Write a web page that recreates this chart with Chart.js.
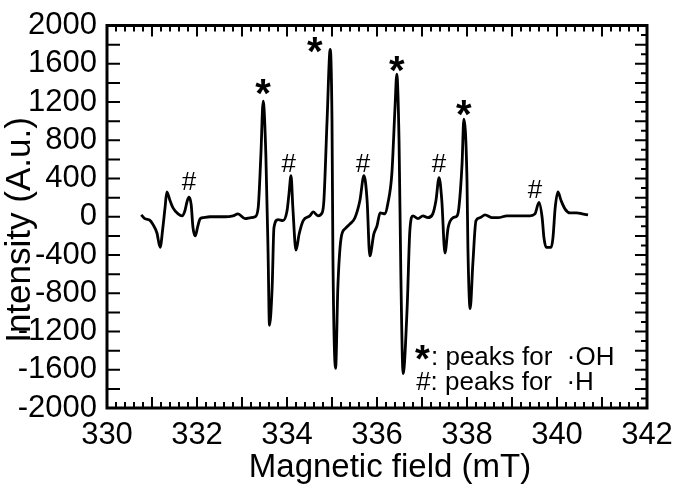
<!DOCTYPE html>
<html>
<head>
<meta charset="utf-8">
<script src="https://cdn.jsdelivr.net/npm/chart.js@4.4.1/dist/chart.umd.min.js"></script>
<style>
  html, body { margin: 0; padding: 0; background: #fff; }
  #wrap { width: 676px; height: 484px; }
</style>
</head>
<body>
<div id="wrap"><canvas id="chart"></canvas></div>
<script>
// EPR spectrum
const field = [
  330.76, 330.84, 330.96, 331.02, 331.11, 331.18, 331.24, 331.29, 331.33, 331.40,
  331.47, 331.58, 331.67, 331.73, 331.78, 331.82, 331.87, 331.91, 331.96, 332.02,
  332.07, 332.13, 332.29, 332.49, 332.62, 332.80, 332.91, 333.07, 333.20, 333.29,
  333.36, 333.42, 333.47, 333.53, 333.58, 333.61, 333.67, 333.71, 333.80, 333.91,
  334.00, 334.04, 334.09, 334.13, 334.20, 334.27, 334.36, 334.51, 334.58, 334.69,
  334.78, 334.82, 334.89, 334.96, 335.00, 335.02, 335.08, 335.13, 335.20, 335.29,
  335.40, 335.51, 335.62, 335.71, 335.78, 335.84, 335.93, 336.00, 336.07, 336.18,
  336.24, 336.33, 336.40, 336.44, 336.49, 336.53, 336.58, 336.67, 336.73, 336.80,
  336.91, 337.02, 337.13, 337.24, 337.31, 337.38, 337.44, 337.51, 337.58, 337.69,
  337.78, 337.82, 337.89, 337.93, 338.00, 338.02, 338.07, 338.13, 338.20, 338.29,
  338.40, 338.56, 338.69, 338.89, 339.11, 339.40, 339.51, 339.60, 339.67, 339.71,
  339.76, 339.87, 339.91, 339.96, 340.02, 340.09, 340.18, 340.29, 340.44, 340.56,
  340.69
];
const intensity = [
  20, -20, -40, -80, -170, -320, -120, 95, 260, 170,
  90, 30, 10, 60, 160, 205, 130, -110, -200, -95,
  -20, -10, 0, 0, 0, 10, 30, -20, -10, 0,
  95, 650, 1210, 650, -390, -1135, -740, -115, -30, -40,
  60, 220, 430, 95, -350, -180, -40, 10, 50, 10,
  40, 170, 1000, 1750, 1000, -390, -1585, -740, -230, -125,
  -75, -10, 170, 430, 170, -410, -180, -95, 40, 30,
  135, 450, 1140, 1490, 790, -600, -1640, -950, -145, 10,
  -20, 10, -10, 30, 170, 410, 170, -380, -115, -10,
  10, 95, 550, 1020, 375, -320, -960, -490, -40, -10,
  20, -10, -10, 10, 10, 10, 30, 150, -10, -220,
  -320, -320, -220, 95, 260, 170, 80, 40, 40, 30,
  20
];

// marker positions (field, intensity)
const ohMarkX = [333.47, 334.62, 336.44, 337.93];
const ohMarkY = [1333, 1771, 1573, 1115];
const hMarkX = [331.82, 334.04, 335.69, 337.38, 339.51];
const hMarkY = [375, 563, 563, 563, 292];

const FONT = "'Liberation Sans', Arial, sans-serif";

function drawStar(ctx, cx, cy, size) {
  ctx.font = `bold ${size}px ${FONT}`;
  ctx.textAlign = "center";
  ctx.textBaseline = "alphabetic";
  ctx.fillText("*", cx, cy + 0.44 * size);
}

const frameAndTicks = {
  id: "frameAndTicks",
  afterDraw(chart) {
    const { ctx, chartArea: a, scales: { x, y } } = chart;
    ctx.save();
    ctx.strokeStyle = "#000";
    ctx.fillStyle = "#000";

    // inward ticks
    ctx.lineWidth = 2;
    ctx.beginPath();
    for (let i = 0; i <= 60; i++) {
      const px = x.getPixelForValue(330 + i * 0.2);
      const len = i % 5 === 0 ? 11 : 6;
      ctx.moveTo(px, a.bottom);
      ctx.lineTo(px, a.bottom - len);
      ctx.moveTo(px, a.top);
      ctx.lineTo(px, a.top + len);
    }
    for (let v = -2000; v <= 2000; v += 100) {
      const py = y.getPixelForValue(v);
      if (v % 200 === 0) {
        ctx.moveTo(a.left, py);
        ctx.lineTo(a.left + 13, py);
      }
      const len = v % 200 === 0 ? 12 : 6;
      ctx.moveTo(a.right, py);
      ctx.lineTo(a.right - len, py);
    }
    ctx.stroke();

    ctx.lineWidth = 3;
    ctx.strokeRect(a.left, a.top, a.right - a.left, a.bottom - a.top);

    // peak markers
    ohMarkX.forEach((f, i) => {
      drawStar(ctx, x.getPixelForValue(f), y.getPixelForValue(ohMarkY[i]), 40);
    });
    ctx.font = `26px ${FONT}`;
    ctx.textAlign = "center";
    ctx.textBaseline = "alphabetic";
    hMarkX.forEach((f, i) => {
      ctx.fillText("#", x.getPixelForValue(f), y.getPixelForValue(hMarkY[i]) + 9);
    });

    // key text
    drawStar(ctx, x.getPixelForValue(337.01), y.getPixelForValue(-1453), 38);
    ctx.font = `26px ${FONT}`;
    ctx.textAlign = "left";
    ctx.fillText(": peaks for  \u00B7OH", x.getPixelForValue(337.2), y.getPixelForValue(-1552));
    ctx.fillText("#: peaks for  \u00B7H", x.getPixelForValue(336.87), y.getPixelForValue(-1812));

    // axis titles
    ctx.font = `33px ${FONT}`;
    ctx.textAlign = "center";
    ctx.textBaseline = "middle";
    ctx.fillText("Magnetic field (mT)", 390, 468);
    ctx.font = `35px ${FONT}`;
    ctx.translate(20, 230);
    ctx.rotate(-Math.PI / 2);
    ctx.fillText("Intensity (A.u.)", 0, 0);
    ctx.restore();
  }
};

new Chart(document.getElementById("chart"), {
  type: "line",
  data: {
    datasets: [{
      data: field.map((f, i) => ({ x: f, y: intensity[i] })),
      borderColor: "#000",
      borderWidth: 2.8,
      pointRadius: 0,
      cubicInterpolationMode: "monotone",
      fill: false,
    }],
  },
  options: {
    responsive: true,
    maintainAspectRatio: false,
    animation: false,
    layout: { padding: { top: 24, right: 29, left: 0, bottom: 0 } },
    plugins: { legend: { display: false }, tooltip: { enabled: false } },
    scales: {
      x: {
        type: "linear",
        min: 330,
        max: 342,
        grid: { display: false, drawTicks: false },
        border: { display: false },
        ticks: {
          stepSize: 2,
          autoSkip: false,
          maxRotation: 0,
          padding: 12,
          color: "#000",
          font: { family: FONT, size: 31, lineHeight: 1 },
          callback: (v) => String(v),
        },
        afterFit: (s) => {
          s.height = 76;
          s.paddingLeft = 0;
          s.paddingRight = 0;
        },
      },
      y: {
        type: "linear",
        min: -2000,
        max: 2000,
        grid: { display: false, drawTicks: false },
        border: { display: false },
        ticks: {
          stepSize: 400,
          autoSkip: false,
          padding: 10,
          color: "#000",
          font: { family: FONT, size: 31, lineHeight: 1 },
          callback: (v) => String(v),
        },
        afterFit: (s) => { s.width = 107; },
      },
    },
  },
  plugins: [frameAndTicks],
});
</script>
</body>
</html>
